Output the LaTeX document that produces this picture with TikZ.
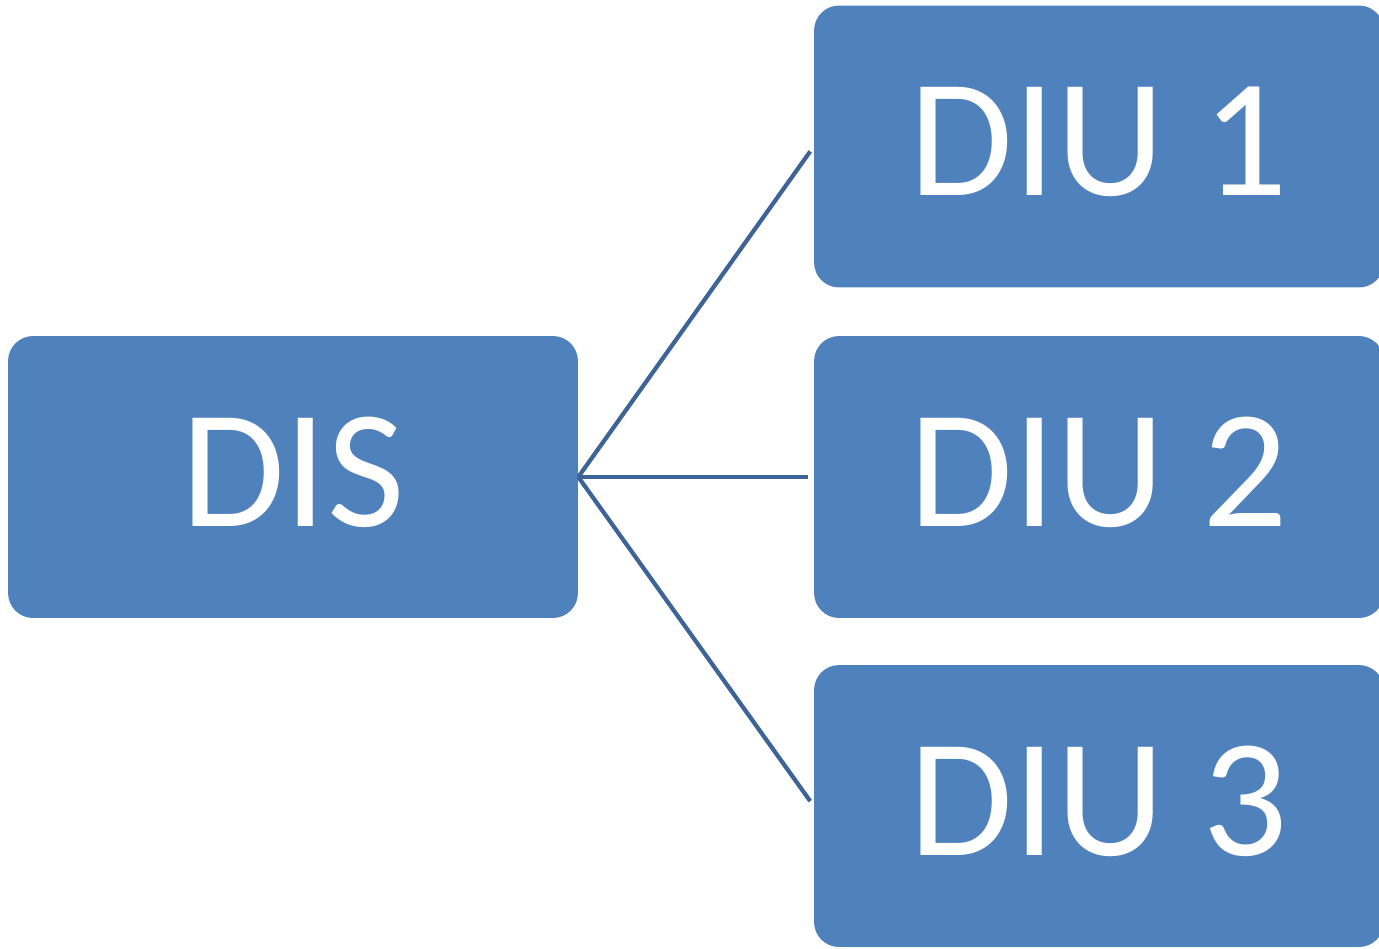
\documentclass[tikz,border=0pt]{standalone}
\usepackage{fontspec}
\setmainfont{Carlito}
\definecolor{boxblue}{HTML}{4F81BD}
\definecolor{lineblue}{HTML}{3C6496}
\begin{document}
\begin{tikzpicture}[x=0.02cm, y=-0.02cm,
    unit/.style={fill=boxblue, rounded corners=0.5cm, minimum width=11.4cm,
      minimum height=5.64cm, inner sep=0pt, text depth=0.2cm, text=white,
      font=\fontsize{96}{96}\selectfont},
    link/.style={draw=lineblue, line width=2.4pt, shorten >=0.12cm}]
      % Cadre
      \useasboundingbox (0,0) rectangle (1379,948);
      % Positions
      \def\xl{293} \def\xr{1099}
      \def\ya{146.5} \def\yb{477} \def\yc{806}
      % Boites
      \node[unit] (dis) at (\xl,\yb) {DIS};
      \node[unit] (diu1) at (\xr,\ya) {DIU 1};
      \node[unit] (diu2) at (\xr,\yb) {DIU 2};
      \node[unit] (diu3) at (\xr,\yc) {DIU 3};
      % Liens
      \draw[link] (dis.east) -- (diu1.west);
      \draw[link] (dis.east) -- (diu2.west);
      \draw[link] (dis.east) -- (diu3.west);
    \end{tikzpicture}
\end{document}
